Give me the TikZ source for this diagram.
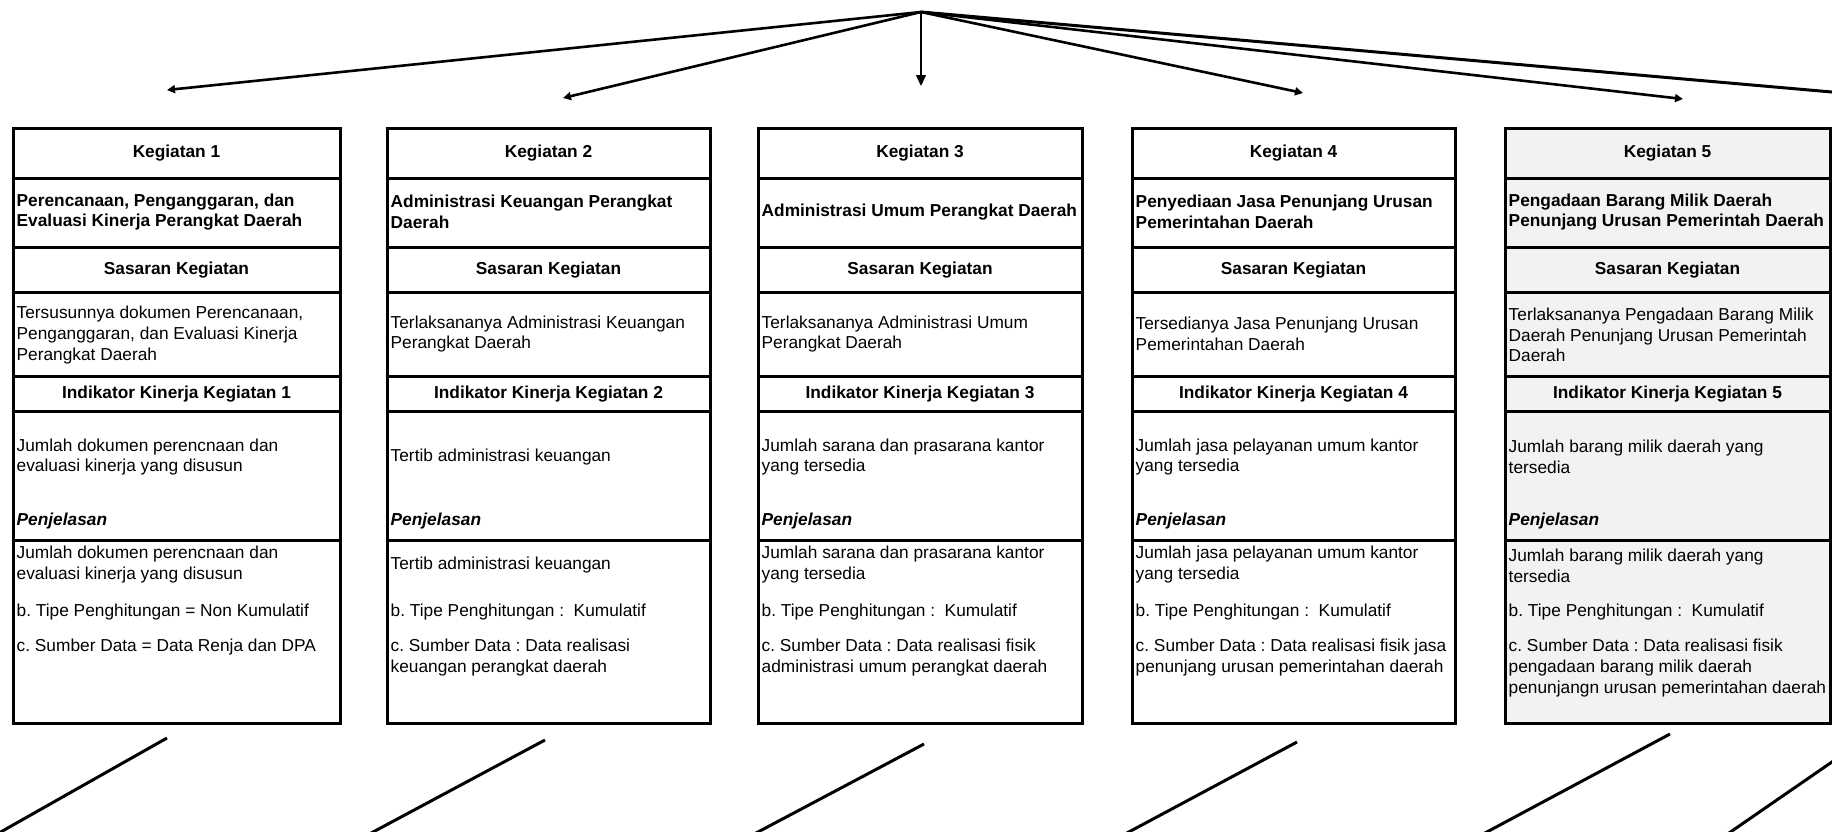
\documentclass[tikz,border=0pt]{standalone}
\usepackage{fontspec}
\setmainfont{Liberation Sans}
\usetikzlibrary{arrows.meta}
\definecolor{boxgray}{HTML}{F2F2F2}
\frenchspacing
\tikzset{
  frame/.style={draw=black, line width=3pt, inner sep=0pt, outer sep=0pt},
  rowline/.style={draw=black, line width=3pt},
  txt/.style={font=\frenchspacing\fontsize{17.3}{20.8}\selectfont, inner sep=0pt, align=left, anchor=west},
  hdr/.style={font=\bfseries\fontsize{17.3}{20.8}\selectfont, inner sep=0pt, align=center, anchor=center},
  ttl/.style={font=\bfseries\fontsize{17.3}{20.8}\selectfont, inner sep=0pt, align=left, anchor=west},
  pj/.style={font=\bfseries\itshape\fontsize{17.3}{20.8}\selectfont, inner sep=0pt, anchor=west},
  arr/.style={line width=2.6pt, -{Triangle[length=8pt,width=8pt]}},
  arrthin/.style={line width=1.4pt, -{Triangle[length=11pt,width=10pt]}},
  lead/.style={line width=3pt},
}
\begin{document}
\begin{tikzpicture}[x=1pt,y=-1pt]
\useasboundingbox (0,0) rectangle (1832,831);
\clip (0,0) rectangle (1832,831);
\fill[white] (0,0) rectangle (1832,831);

% top arrows
\coordinate (apex) at (921,12);
\coordinate (e1) at (167,90);
\coordinate (e2) at (563,98);
\coordinate (e3) at (921,86);
\coordinate (e4) at (1303,93);
\coordinate (e5) at (1683,99);
\coordinate (e6) at (1900,98);
\draw[arr] (apex) -- (e1);
\draw[arr] (apex) -- (e2);
\draw[arrthin] (apex) -- (e3);
\draw[arr] (apex) -- (e4);
\draw[arr] (apex) -- (e5);
\draw[lead] (apex) -- (e6);

% boxes
\node[frame, fill=white, minimum width=327pt, minimum height=595pt] (k1) at (176.5,425.5) {};
\node[frame, fill=white, minimum width=323pt, minimum height=595pt] (k2) at (548.5,425.5) {};
\node[frame, fill=white, minimum width=324pt, minimum height=595pt] (k3) at (920,425.5) {};
\node[frame, fill=white, minimum width=323pt, minimum height=595pt] (k4) at (1293.5,425.5) {};
\node[frame, fill=boxgray, minimum width=325pt, minimum height=595pt] (k5) at (1667.5,425.5) {};
\foreach \L/\R in {13/340,387/710,758/1082,1132/1455,1505/1830}
  \foreach \yy in {178,247,292,376,411,540}
    \draw[rowline] (\L,\yy) -- (\R,\yy);

% box 1
\node[hdr] (k1h) at (176.5,153) {Kegiatan 1};
\node[ttl] (k1t) at (16.5,212) {Perencanaan, Penganggaran, dan\\Evaluasi Kinerja Perangkat Daerah};
\node[hdr] (k1sh) at (176.5,270) {Sasaran Kegiatan};
\node[txt] (k1s) at (16.5,335) {Tersusunnya dokumen Perencanaan,\\Penganggaran, dan Evaluasi Kinerja\\Perangkat Daerah};
\node[hdr] (k1ih) at (176.5,394) {Indikator Kinerja Kegiatan 1};
\node[txt] (k1i) at (16.5,457) {Jumlah dokumen perencnaan dan\\evaluasi kinerja yang disusun};
\node[pj] (k1p) at (16.5,521) {Penjelasan};
\node[txt] (k1a) at (16.5,564.5) {Jumlah dokumen perencnaan dan\\evaluasi kinerja yang disusun};
\node[txt] (k1b) at (16.5,612.5) {b. Tipe Penghitungan = Non Kumulatif};
\node[txt] (k1c) at (16.5,647) {c. Sumber Data = Data Renja dan DPA};

% box 2
\node[hdr] (k2h) at (548.5,153) {Kegiatan 2};
\node[ttl] (k2t) at (390.5,212) {Administrasi Keuangan Perangkat\\Daerah};
\node[hdr] (k2sh) at (548.5,270) {Sasaran Kegiatan};
\node[txt] (k2s) at (390.5,334) {Terlaksananya Administrasi Keuangan\\Perangkat Daerah};
\node[hdr] (k2ih) at (548.5,394) {Indikator Kinerja Kegiatan 2};
\node[txt] (k2i) at (390.5,457) {Tertib administrasi keuangan};
\node[pj] (k2p) at (390.5,521) {Penjelasan};
\node[txt] (k2a) at (390.5,565) {Tertib administrasi keuangan};
\node[txt] (k2b) at (390.5,612.5) {b. Tipe Penghitungan :~ Kumulatif};
\node[txt] (k2c) at (390.5,657.5) {c. Sumber Data : Data realisasi\\keuangan perangkat daerah};

% box 3
\node[hdr] (k3h) at (920,153) {Kegiatan 3};
\node[ttl] (k3t) at (761.5,212) {Administrasi Umum Perangkat Daerah};
\node[hdr] (k3sh) at (920,270) {Sasaran Kegiatan};
\node[txt] (k3s) at (761.5,334) {Terlaksananya Administrasi Umum\\Perangkat Daerah};
\node[hdr] (k3ih) at (920,394) {Indikator Kinerja Kegiatan 3};
\node[txt] (k3i) at (761.5,457) {Jumlah sarana dan prasarana kantor\\yang tersedia};
\node[pj] (k3p) at (761.5,521) {Penjelasan};
\node[txt] (k3a) at (761.5,564.5) {Jumlah sarana dan prasarana kantor\\yang tersedia};
\node[txt] (k3b) at (761.5,612.5) {b. Tipe Penghitungan :~ Kumulatif};
\node[txt] (k3c) at (761.5,657.5) {c. Sumber Data : Data realisasi fisik\\administrasi umum perangkat daerah};

% box 4
\node[hdr] (k4h) at (1293.5,153) {Kegiatan 4};
\node[ttl] (k4t) at (1135.5,212) {Penyediaan Jasa Penunjang Urusan\\Pemerintahan Daerah};
\node[hdr] (k4sh) at (1293.5,270) {Sasaran Kegiatan};
\node[txt] (k4s) at (1135.5,334) {Tersedianya Jasa Penunjang Urusan\\Pemerintahan Daerah};
\node[hdr] (k4ih) at (1293.5,394) {Indikator Kinerja Kegiatan 4};
\node[txt] (k4i) at (1135.5,457) {Jumlah jasa pelayanan umum kantor\\yang tersedia};
\node[pj] (k4p) at (1135.5,521) {Penjelasan};
\node[txt] (k4a) at (1135.5,564.5) {Jumlah jasa pelayanan umum kantor\\yang tersedia};
\node[txt] (k4b) at (1135.5,612.5) {b. Tipe Penghitungan :~ Kumulatif};
\node[txt] (k4c) at (1135.5,657.5) {c. Sumber Data : Data realisasi fisik jasa\\penunjang urusan pemerintahan daerah};

% box 5
\node[hdr] (k5h) at (1667.5,153) {Kegiatan 5};
\node[ttl] (k5t) at (1508.5,212) {Pengadaan Barang Milik Daerah\\Penunjang Urusan Pemerintah Daerah};
\node[hdr] (k5sh) at (1667.5,270) {Sasaran Kegiatan};
\node[txt] (k5s) at (1508.5,335) {Terlaksananya Pengadaan Barang Milik\\Daerah Penunjang Urusan Pemerintah\\Daerah};
\node[hdr] (k5ih) at (1667.5,394) {Indikator Kinerja Kegiatan 5};
\node[txt] (k5i) at (1508.5,457) {Jumlah barang milik daerah yang\\tersedia};
\node[pj] (k5p) at (1508.5,521) {Penjelasan};
\node[txt] (k5a) at (1508.5,565.5) {Jumlah barang milik daerah yang\\tersedia};
\node[txt] (k5b) at (1508.5,612.5) {b. Tipe Penghitungan :~ Kumulatif};
\node[txt] (k5c) at (1508.5,668) {c. Sumber Data : Data realisasi fisik\\pengadaan barang milik daerah\\penunjangn urusan pemerintahan daerah};

% lower leader lines
\coordinate (l1a) at (167,738);  \coordinate (l1b) at (-33,851);
\coordinate (l2a) at (545,740);  \coordinate (l2b) at (345,847);
\coordinate (l3a) at (924,744);  \coordinate (l3b) at (724,850);
\coordinate (l4a) at (1297,742); \coordinate (l4b) at (1097,849);
\coordinate (l5a) at (1670,734); \coordinate (l5b) at (1470,841);
\coordinate (l6a) at (1900,715); \coordinate (l6b) at (1700,853);
\draw[lead] (l1a) -- (l1b);
\draw[lead] (l2a) -- (l2b);
\draw[lead] (l3a) -- (l3b);
\draw[lead] (l4a) -- (l4b);
\draw[lead] (l5a) -- (l5b);
\draw[lead] (l6a) -- (l6b);
\end{tikzpicture}
\end{document}
